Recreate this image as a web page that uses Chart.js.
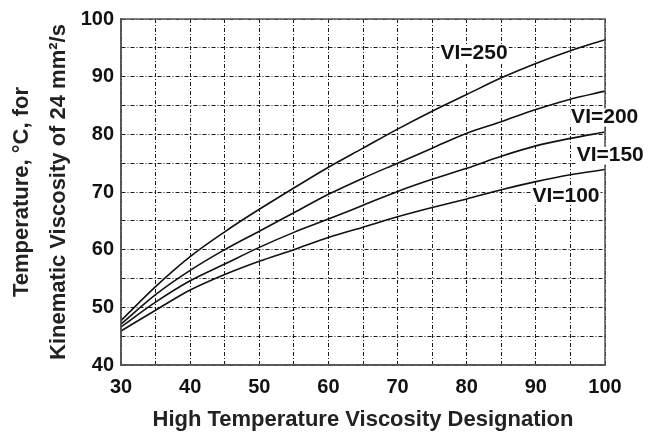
<!DOCTYPE html>
<html lang="en">
<head>
    <meta charset="UTF-8">
    <title>Temperature vs High Temperature Viscosity Designation</title>
    <script src="https://cdn.jsdelivr.net/npm/chart.js"></script>
    <style>
        html, body { margin: 0; padding: 0; background: #fff; }
        #box { width: 649px; height: 434px; }
    </style>
</head>
<body>
    <div id="box"><canvas id="grafico"></canvas></div>

    <script>
        // high temperature viscosity designation (x)
        const designation = [30, 35, 40, 45, 50, 55, 60, 65, 70, 75, 80, 85, 90, 95, 100];
        // temperature, °C, for 24 mm2/s, one array per viscosity index
        const vi250 = [47.7, 53.6, 58.8, 63.1, 67.0, 70.7, 74.3, 77.6, 80.9, 84.0, 86.9, 89.8, 92.3, 94.5, 96.4];
        const vi200 = [47.1, 52.2, 56.4, 60.0, 63.2, 66.4, 69.6, 72.4, 75.0, 77.6, 80.2, 82.2, 84.3, 86.1, 87.5];
        const vi150 = [46.6, 50.9, 54.6, 57.5, 60.4, 63.0, 65.3, 67.7, 70.1, 72.2, 74.1, 76.2, 78.0, 79.3, 80.4];
        const vi100 = [45.9, 49.5, 53.0, 55.7, 58.0, 60.0, 62.1, 63.9, 65.7, 67.3, 68.8, 70.4, 71.8, 73.0, 73.9];
        const curveNames = ['VI=250', 'VI=200', 'VI=150', 'VI=100'];
        // where each curve name sits, in data units (left edge, middle)
        const nameX = [76.2, 95.1, 95.9, 89.5];
        const nameY = [94.1, 82.9, 76.3, 69.3];

        const xTicks = [30, 40, 50, 60, 70, 80, 90, 100];
        const yTicks = [40, 50, 60, 70, 80, 90, 100];

        function pts(ys) {
            return designation.map((x, i) => ({ x: x, y: ys[i] }));
        }

        const fuente = 'Liberation Sans, Arial, Helvetica, sans-serif';
        const rejilla = { color: '#1a1a1a', lineWidth: 1, drawTicks: false };
        const borde = { display: true, color: '#555', width: 1.5, dash: [4, 2, 1, 2] };

        // curve names and the solid frame around the plot
        const extras = {
            id: 'extras',
            afterDatasetsDraw(chart) {
                const ctx = chart.ctx;
                const a = chart.chartArea;
                const xs = chart.scales.x, ys = chart.scales.y;
                ctx.save();
                ctx.setLineDash([]);
                ctx.strokeStyle = '#555';
                ctx.lineWidth = 1.5;
                ctx.strokeRect(a.left, a.top, a.right - a.left, a.bottom - a.top);
                ctx.font = 'bold 21px ' + fuente;
                ctx.textBaseline = 'middle';
                ctx.textAlign = 'left';
                curveNames.forEach((t, i) => {
                    const px = xs.getPixelForValue(nameX[i]);
                    const py = ys.getPixelForValue(nameY[i]);
                    const w = ctx.measureText(t).width;
                    ctx.fillStyle = '#fff';
                    ctx.fillRect(px - 1, py - 9, w + 2, 18);
                    ctx.fillStyle = '#111';
                    ctx.fillText(t, px, py);
                });
                ctx.restore();
            }
        };

        const ctx = document.getElementById('grafico').getContext('2d');
        const lineas = [vi250, vi200, vi150, vi100].map((ys, i) => ({
            label: curveNames[i],
            data: pts(ys),
            borderColor: '#111',
            borderWidth: 1.6,
            pointRadius: 0,
            fill: false,
            cubicInterpolationMode: 'monotone'
        }));

        new Chart(ctx, {
            type: 'line',
            data: { datasets: lineas },
            options: {
                responsive: true,
                maintainAspectRatio: false,
                animation: false,
                layout: { padding: { top: 15, right: 44, left: 0, bottom: 0 } },
                plugins: { legend: { display: false }, tooltip: { enabled: false } },
                scales: {
                    x: {
                        type: 'linear',
                        min: 30, max: 100,
                        afterFit(s) { s.height = 69; },
                        border: borde,
                        grid: rejilla,
                        afterBuildTicks(s) {
                            s.ticks = [];
                            for (let v = 30; v <= 100; v += 5) s.ticks.push({ value: v });
                        },
                        ticks: {
                            padding: 10,
                            maxRotation: 0,
                            autoSkip: false,
                            color: '#111',
                            font: { family: fuente, size: 20, weight: 'bold' },
                            callback: v => xTicks.includes(v) ? String(v) : ''
                        },
                        title: {
                            display: true,
                            text: 'High Temperature Viscosity Designation',
                            color: '#222',
                            font: { family: fuente, size: 22, weight: 'bold', lineHeight: 1.2 },
                            padding: { top: 0, bottom: 1 }
                        }
                    },
                    y: {
                        type: 'linear',
                        min: 40, max: 100,
                        afterFit(s) { s.width = 121; },
                        border: borde,
                        grid: rejilla,
                        afterBuildTicks(s) {
                            s.ticks = [];
                            for (let v = 40; v <= 100; v += 5) s.ticks.push({ value: v });
                        },
                        ticks: {
                            padding: 7,
                            autoSkip: false,
                            color: '#111',
                            font: { family: fuente, size: 20, weight: 'bold' },
                            callback: v => yTicks.includes(v) ? String(v) : ''
                        },
                        title: {
                            display: true,
                            text: ['Temperature, °C, for', 'Kinematic Viscosity of 24 mm²/s'],
                            color: '#222',
                            font: { family: fuente, size: 22, weight: 'bold', lineHeight: '37px' },
                            padding: { top: 3, bottom: 0 }
                        }
                    }
                }
            },
            plugins: [extras]
        });
    </script>
</body>
</html>
